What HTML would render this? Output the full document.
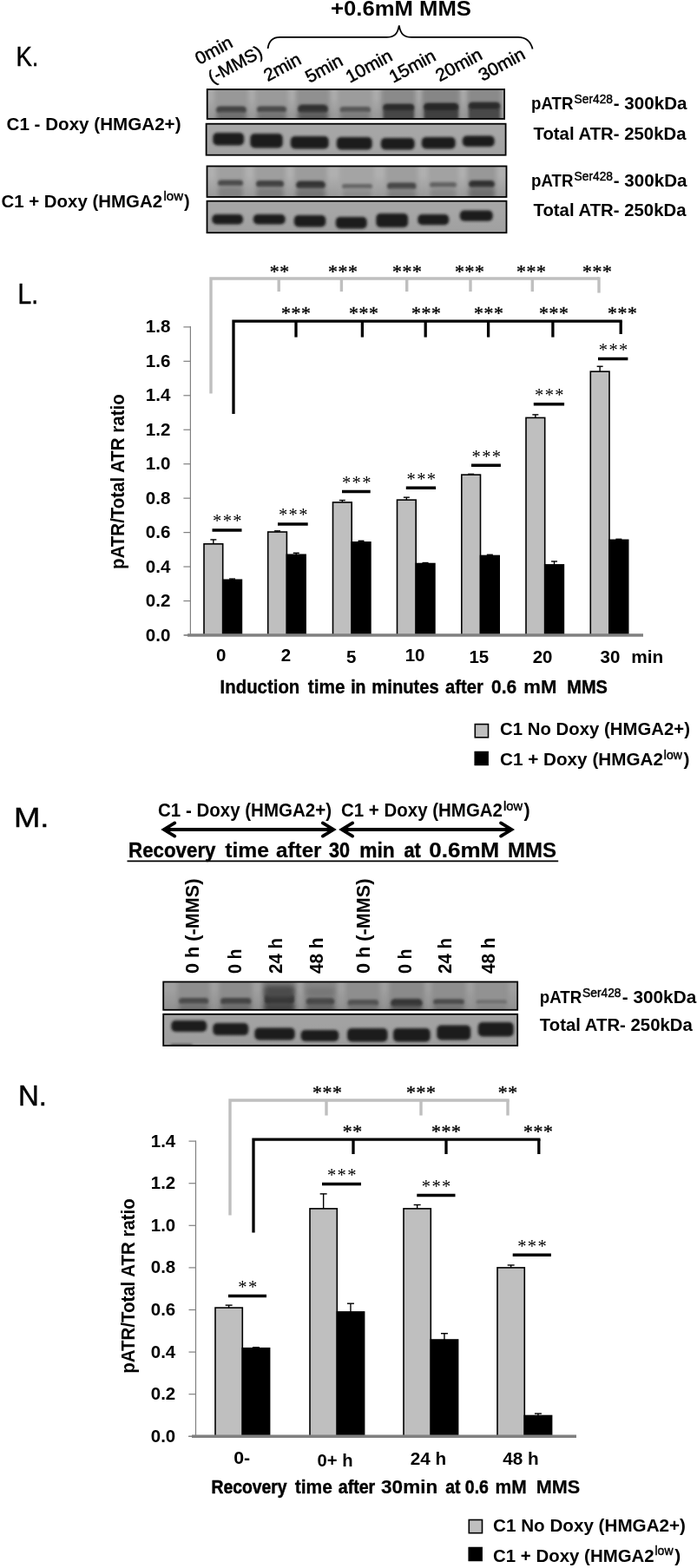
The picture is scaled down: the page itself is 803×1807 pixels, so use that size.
<!DOCTYPE html>
<html><head><meta charset="utf-8"><title>Figure</title>
<style>
html,body{margin:0;padding:0;background:#fff;}
svg{display:block;font-family:"Liberation Sans", sans-serif;}
</style></head><body>
<svg width="803" height="1807" viewBox="0 0 803 1807">
<defs>
<filter id="b1" x="-20%" y="-50%" width="140%" height="200%"><feGaussianBlur stdDeviation="1.5"/></filter>
<filter id="b2" x="-20%" y="-50%" width="140%" height="200%"><feGaussianBlur stdDeviation="2.4"/></filter>
<filter id="b3" x="-20%" y="-80%" width="140%" height="260%"><feGaussianBlur stdDeviation="3"/></filter>
</defs>
<rect width="803" height="1807" fill="#fff"/>
<text x="381" y="18" font-size="23" font-weight="bold" text-anchor="start" fill="#000" textLength="162" lengthAdjust="spacingAndGlyphs">+0.6mM MMS</text>
<text x="18.4" y="76" font-size="32" font-weight="normal" text-anchor="start" fill="#000" textLength="26" lengthAdjust="spacingAndGlyphs" stroke="#000" stroke-width="0.45">K.</text>
<path d="M308.6 56 C309.6 47.5 314 42.9 322.5 42.9 L445.5 42.9 C453.5 42.9 458 40 459.8 29.3 C461.6 40 466 42.9 474 42.9 L597 42.9 C606.5 42.9 611.2 47.5 613.6 56.5" fill="none" stroke="#000" stroke-width="1.8"/>
<text x="229.5" y="75" font-size="20.5" font-weight="normal" text-anchor="start" fill="#000" textLength="45.5" lengthAdjust="spacingAndGlyphs" transform="rotate(-28.5 229.5 75)" stroke="#000" stroke-width="0.5">0min</text>
<text x="244.5" y="96.5" font-size="20.5" font-weight="normal" text-anchor="start" fill="#000" textLength="67.5" lengthAdjust="spacingAndGlyphs" transform="rotate(-28.5 244.5 96.5)" stroke="#000" stroke-width="0.5">(-MMS)</text>
<text x="308.5" y="94.3" font-size="20.5" font-weight="normal" text-anchor="start" fill="#000" textLength="45.5" lengthAdjust="spacingAndGlyphs" transform="rotate(-28.5 308.5 94.3)" stroke="#000" stroke-width="0.5">2min</text>
<text x="356.5" y="96" font-size="20.5" font-weight="normal" text-anchor="start" fill="#000" textLength="45.5" lengthAdjust="spacingAndGlyphs" transform="rotate(-28.5 356.5 96)" stroke="#000" stroke-width="0.5">5min</text>
<text x="403" y="96" font-size="20.5" font-weight="normal" text-anchor="start" fill="#000" textLength="57.5" lengthAdjust="spacingAndGlyphs" transform="rotate(-28.5 403 96)" stroke="#000" stroke-width="0.5">10min</text>
<text x="453" y="96" font-size="20.5" font-weight="normal" text-anchor="start" fill="#000" textLength="57.5" lengthAdjust="spacingAndGlyphs" transform="rotate(-28.5 453 96)" stroke="#000" stroke-width="0.5">15min</text>
<text x="506.5" y="94.5" font-size="20.5" font-weight="normal" text-anchor="start" fill="#000" textLength="57.5" lengthAdjust="spacingAndGlyphs" transform="rotate(-28.5 506.5 94.5)" stroke="#000" stroke-width="0.5">20min</text>
<text x="556" y="94" font-size="20.5" font-weight="normal" text-anchor="start" fill="#000" textLength="57.5" lengthAdjust="spacingAndGlyphs" transform="rotate(-28.5 556 94)" stroke="#000" stroke-width="0.5">30min</text>
<text x="7.5" y="150" font-size="20" font-weight="bold" text-anchor="start" fill="#000" textLength="201" lengthAdjust="spacingAndGlyphs">C1 - Doxy (HMGA2+)</text>
<text x="1.5" y="238.7" font-size="20" font-weight="bold" text-anchor="start" fill="#000" textLength="185.5" lengthAdjust="spacingAndGlyphs">C1 + Doxy (HMGA2</text>
<text x="188.5" y="231" font-size="14" font-weight="normal" text-anchor="start" fill="#000" textLength="22.5" lengthAdjust="spacingAndGlyphs" stroke="#000" stroke-width="0.45">low</text>
<text x="212" y="238.7" font-size="20" font-weight="bold" text-anchor="start" fill="#000">)</text>
<text x="612" y="126" font-size="21" font-weight="bold" text-anchor="start" fill="#000" textLength="48.5" lengthAdjust="spacingAndGlyphs">pATR</text>
<text x="661.5" y="119" font-size="14.5" font-weight="normal" text-anchor="start" fill="#000" textLength="44.5" lengthAdjust="spacingAndGlyphs" stroke="#000" stroke-width="0.45">Ser428</text>
<text x="706.8" y="126" font-size="21" font-weight="bold" text-anchor="start" fill="#000" textLength="84.7" lengthAdjust="spacingAndGlyphs">- 300kDa</text>
<text x="612" y="214.5" font-size="21" font-weight="bold" text-anchor="start" fill="#000" textLength="48.5" lengthAdjust="spacingAndGlyphs">pATR</text>
<text x="661.5" y="207.5" font-size="14.5" font-weight="normal" text-anchor="start" fill="#000" textLength="44.5" lengthAdjust="spacingAndGlyphs" stroke="#000" stroke-width="0.45">Ser428</text>
<text x="706.8" y="214.5" font-size="21" font-weight="bold" text-anchor="start" fill="#000" textLength="84.7" lengthAdjust="spacingAndGlyphs">- 300kDa</text>
<text x="614.5" y="160.5" font-size="21" font-weight="bold" text-anchor="start" fill="#000" textLength="176" lengthAdjust="spacingAndGlyphs">Total ATR- 250kDa</text>
<text x="614.5" y="249" font-size="21" font-weight="bold" text-anchor="start" fill="#000" textLength="176" lengthAdjust="spacingAndGlyphs">Total ATR- 250kDa</text>
<clipPath id="ck1"><rect x="238.7" y="103" width="342.4" height="34"/></clipPath>
<linearGradient id="gk1" x1="0" y1="0" x2="0" y2="1"><stop offset="0.3" stop-color="#ababab"/><stop offset="1" stop-color="#969696"/></linearGradient>
<g clip-path="url(#ck1)">
<rect x="238.7" y="103" width="342.4" height="34" fill="url(#gk1)"/>
<rect x="247" y="98" width="39" height="44" rx="5" fill="#989898" filter="url(#b2)"/>
<rect x="294" y="98" width="38" height="44" rx="5" fill="#9a9a9a" filter="url(#b2)"/>
<rect x="341" y="98" width="39" height="44" rx="5" fill="#909090" filter="url(#b2)"/>
<rect x="389" y="98" width="40" height="44" rx="5" fill="#9c9c9c" filter="url(#b2)"/>
<rect x="439" y="98" width="40" height="44" rx="5" fill="#8a8a8a" filter="url(#b2)"/>
<rect x="486" y="98" width="44" height="44" rx="5" fill="#868686" filter="url(#b2)"/>
<rect x="538" y="98" width="40" height="44" rx="5" fill="#8a8a8a" filter="url(#b2)"/>
<rect x="249" y="122.5" width="35" height="8.5" rx="4.25" fill="#3e3e3e" filter="url(#b1)"/>
<rect x="249" y="129" width="35" height="12" rx="5" fill="#6e6e6e" filter="url(#b2)"/>
<rect x="296" y="122.5" width="34" height="7.5" rx="3.75" fill="#454545" filter="url(#b1)"/>
<rect x="296" y="129" width="34" height="12" rx="5" fill="#727272" filter="url(#b2)"/>
<rect x="343" y="120.5" width="35" height="10.5" rx="5" fill="#2e2e2e" filter="url(#b1)"/>
<rect x="343" y="129" width="35" height="12" rx="5" fill="#5c5c5c" filter="url(#b2)"/>
<rect x="391.5" y="123" width="35.5" height="7" rx="3.5" fill="#525252" filter="url(#b1)"/>
<rect x="391.5" y="129" width="35.5" height="12" rx="5" fill="#7a7a7a" filter="url(#b2)"/>
<rect x="441.5" y="120.5" width="35.5" height="20.5" rx="5" fill="#474747" filter="url(#b1)"/>
<rect x="441.5" y="120" width="35.5" height="7" rx="3.5" fill="#2c2c2c" filter="url(#b1)"/>
<rect x="488.5" y="119.5" width="39.5" height="21.5" rx="5" fill="#404040" filter="url(#b1)"/>
<rect x="488.5" y="119" width="39.5" height="8" rx="4.0" fill="#262626" filter="url(#b1)"/>
<rect x="540" y="118.5" width="36" height="22.5" rx="5" fill="#4a4a4a" filter="url(#b1)"/>
<rect x="540" y="118" width="36" height="7.5" rx="3.75" fill="#2c2c2c" filter="url(#b1)"/>
</g>
<rect x="238.7" y="103" width="342.4" height="34" fill="none" stroke="#000" stroke-width="1.8"/>
<clipPath id="ck2"><rect x="237.6" y="142.7" width="345" height="36"/></clipPath>
<linearGradient id="gk2" x1="0" y1="0" x2="0" y2="1"><stop offset="0.3" stop-color="#a6a6a6"/><stop offset="1" stop-color="#a2a2a2"/></linearGradient>
<g clip-path="url(#ck2)">
<rect x="237.6" y="142.7" width="345" height="36" fill="url(#gk2)"/>
<rect x="245.3" y="153.0" width="35.80000000000001" height="14.5" rx="5" fill="#1a1a1a" filter="url(#b1)"/>
<rect x="288.3" y="154.0" width="37.39999999999998" height="16.5" rx="5" fill="#1a1a1a" filter="url(#b1)"/>
<rect x="334.8" y="157.0" width="43.89999999999998" height="14.5" rx="5" fill="#1a1a1a" filter="url(#b1)"/>
<rect x="387.8" y="158.0" width="40.89999999999998" height="14.5" rx="5" fill="#1a1a1a" filter="url(#b1)"/>
<rect x="438.8" y="159.0" width="38.89999999999998" height="13.5" rx="5" fill="#1a1a1a" filter="url(#b1)"/>
<rect x="485.8" y="158.0" width="38.900000000000034" height="13.5" rx="5" fill="#1a1a1a" filter="url(#b1)"/>
<rect x="532.8" y="156.5" width="36.90000000000009" height="12.5" rx="5" fill="#1a1a1a" filter="url(#b1)"/>
</g>
<rect x="237.6" y="142.7" width="345" height="36" fill="none" stroke="#000" stroke-width="1.8"/>
<clipPath id="ck3"><rect x="238.5" y="191.5" width="345" height="35.5"/></clipPath>
<linearGradient id="gk3" x1="0" y1="0" x2="0" y2="1"><stop offset="0.3" stop-color="#b0b0b0"/><stop offset="1" stop-color="#999"/></linearGradient>
<g clip-path="url(#ck3)">
<rect x="238.5" y="191.5" width="345" height="35.5" fill="url(#gk3)"/>
<rect x="249" y="186" width="33" height="46" rx="5" fill="#a0a0a0" filter="url(#b2)"/>
<rect x="293" y="186" width="36" height="46" rx="5" fill="#9e9e9e" filter="url(#b2)"/>
<rect x="339" y="186" width="38" height="46" rx="5" fill="#9c9c9c" filter="url(#b2)"/>
<rect x="391" y="186" width="40" height="46" rx="5" fill="#a4a4a4" filter="url(#b2)"/>
<rect x="444" y="186" width="37.5" height="46" rx="5" fill="#9e9e9e" filter="url(#b2)"/>
<rect x="493" y="186" width="35" height="46" rx="5" fill="#a2a2a2" filter="url(#b2)"/>
<rect x="538" y="186" width="34" height="46" rx="5" fill="#989898" filter="url(#b2)"/>
<rect x="251" y="207.5" width="29" height="7.0" rx="3.5" fill="#484848" filter="url(#b1)"/>
<rect x="251" y="215" width="29" height="16" rx="5" fill="#828282" filter="url(#b2)"/>
<rect x="295" y="208" width="32" height="8" rx="4.0" fill="#404040" filter="url(#b1)"/>
<rect x="295" y="216" width="32" height="15" rx="5" fill="#7e7e7e" filter="url(#b2)"/>
<rect x="341" y="208.5" width="34" height="9.5" rx="4.75" fill="#323232" filter="url(#b1)"/>
<rect x="341" y="217" width="34" height="14" rx="5" fill="#747474" filter="url(#b2)"/>
<rect x="394" y="212" width="35" height="5.5" rx="2.75" fill="#646464" filter="url(#b1)"/>
<rect x="394" y="218" width="35" height="13" rx="5" fill="#8c8c8c" filter="url(#b2)"/>
<rect x="446" y="210.5" width="33.5" height="8.0" rx="4.0" fill="#444" filter="url(#b1)"/>
<rect x="446" y="218" width="33.5" height="13" rx="5" fill="#808080" filter="url(#b2)"/>
<rect x="495" y="210" width="31" height="6" rx="3.0" fill="#606060" filter="url(#b1)"/>
<rect x="495" y="217" width="31" height="14" rx="5" fill="#888" filter="url(#b2)"/>
<rect x="540" y="208" width="30" height="8.5" rx="4.25" fill="#2e2e2e" filter="url(#b1)"/>
<rect x="540" y="216" width="30" height="15" rx="5" fill="#6e6e6e" filter="url(#b2)"/>
</g>
<rect x="238.5" y="191.5" width="345" height="35.5" fill="none" stroke="#000" stroke-width="1.8"/>
<clipPath id="ck4"><rect x="238.5" y="231.7" width="345" height="36.5"/></clipPath>
<linearGradient id="gk4" x1="0" y1="0" x2="0" y2="1"><stop offset="0.3" stop-color="#a6a6a6"/><stop offset="1" stop-color="#a0a0a0"/></linearGradient>
<g clip-path="url(#ck4)">
<rect x="238.5" y="231.7" width="345" height="36.5" fill="url(#gk4)"/>
<rect x="244.3" y="247.0" width="35.69999999999999" height="11.5" rx="5" fill="#1a1a1a" filter="url(#b1)"/>
<rect x="291.8" y="247.0" width="36.89999999999998" height="11.5" rx="5" fill="#1a1a1a" filter="url(#b1)"/>
<rect x="338.8" y="248.0" width="36.5" height="13.5" rx="5" fill="#1a1a1a" filter="url(#b1)"/>
<rect x="386.8" y="250.0" width="35.89999999999998" height="13.5" rx="5" fill="#1a1a1a" filter="url(#b1)"/>
<rect x="433.3" y="246.0" width="36.80000000000001" height="16.0" rx="5" fill="#1a1a1a" filter="url(#b1)"/>
<rect x="481.3" y="247.0" width="35.900000000000034" height="12.300000000000011" rx="5" fill="#1a1a1a" filter="url(#b1)"/>
<rect x="529.8" y="242.5" width="37.90000000000009" height="12.300000000000011" rx="5" fill="#1a1a1a" filter="url(#b1)"/>
</g>
<rect x="238.5" y="231.7" width="345" height="36.5" fill="none" stroke="#000" stroke-width="1.8"/>
<text x="20.5" y="350" font-size="32.5" font-weight="normal" text-anchor="start" fill="#000" textLength="23.5" lengthAdjust="spacingAndGlyphs" stroke="#000" stroke-width="0.45">L.</text>
<line x1="219.4" y1="376" x2="219.4" y2="732.0" stroke="#808080" stroke-width="1.2" stroke-linecap="butt"/>
<line x1="211.4" y1="732.0" x2="219.4" y2="732.0" stroke="#808080" stroke-width="1.2" stroke-linecap="butt"/>
<text x="196.4" y="738.5" font-size="19.5" font-weight="bold" text-anchor="end" fill="#000" textLength="28.6" lengthAdjust="spacingAndGlyphs">0.0</text>
<line x1="211.4" y1="692.54" x2="219.4" y2="692.54" stroke="#808080" stroke-width="1.2" stroke-linecap="butt"/>
<text x="196.4" y="699.04" font-size="19.5" font-weight="bold" text-anchor="end" fill="#000" textLength="28.6" lengthAdjust="spacingAndGlyphs">0.2</text>
<line x1="211.4" y1="653.0799999999999" x2="219.4" y2="653.0799999999999" stroke="#808080" stroke-width="1.2" stroke-linecap="butt"/>
<text x="196.4" y="659.5799999999999" font-size="19.5" font-weight="bold" text-anchor="end" fill="#000" textLength="28.6" lengthAdjust="spacingAndGlyphs">0.4</text>
<line x1="211.4" y1="613.62" x2="219.4" y2="613.62" stroke="#808080" stroke-width="1.2" stroke-linecap="butt"/>
<text x="196.4" y="620.12" font-size="19.5" font-weight="bold" text-anchor="end" fill="#000" textLength="28.6" lengthAdjust="spacingAndGlyphs">0.6</text>
<line x1="211.4" y1="574.16" x2="219.4" y2="574.16" stroke="#808080" stroke-width="1.2" stroke-linecap="butt"/>
<text x="196.4" y="580.66" font-size="19.5" font-weight="bold" text-anchor="end" fill="#000" textLength="28.6" lengthAdjust="spacingAndGlyphs">0.8</text>
<line x1="211.4" y1="534.7" x2="219.4" y2="534.7" stroke="#808080" stroke-width="1.2" stroke-linecap="butt"/>
<text x="196.4" y="541.2" font-size="19.5" font-weight="bold" text-anchor="end" fill="#000" textLength="28.6" lengthAdjust="spacingAndGlyphs">1.0</text>
<line x1="211.4" y1="495.23999999999995" x2="219.4" y2="495.23999999999995" stroke="#808080" stroke-width="1.2" stroke-linecap="butt"/>
<text x="196.4" y="501.73999999999995" font-size="19.5" font-weight="bold" text-anchor="end" fill="#000" textLength="28.6" lengthAdjust="spacingAndGlyphs">1.2</text>
<line x1="211.4" y1="455.78" x2="219.4" y2="455.78" stroke="#808080" stroke-width="1.2" stroke-linecap="butt"/>
<text x="196.4" y="462.28" font-size="19.5" font-weight="bold" text-anchor="end" fill="#000" textLength="28.6" lengthAdjust="spacingAndGlyphs">1.4</text>
<line x1="211.4" y1="416.31999999999994" x2="219.4" y2="416.31999999999994" stroke="#808080" stroke-width="1.2" stroke-linecap="butt"/>
<text x="196.4" y="422.81999999999994" font-size="19.5" font-weight="bold" text-anchor="end" fill="#000" textLength="28.6" lengthAdjust="spacingAndGlyphs">1.6</text>
<line x1="211.4" y1="376.85999999999996" x2="219.4" y2="376.85999999999996" stroke="#808080" stroke-width="1.2" stroke-linecap="butt"/>
<text x="196.4" y="383.35999999999996" font-size="19.5" font-weight="bold" text-anchor="end" fill="#000" textLength="28.6" lengthAdjust="spacingAndGlyphs">1.8</text>
<text x="143.5" y="555.1" font-size="22" font-weight="bold" text-anchor="middle" fill="#000" textLength="201.6" lengthAdjust="spacingAndGlyphs" transform="rotate(-90 143.5 555.1)">pATR/Total ATR ratio</text>
<line x1="245.85" y1="626.8391" x2="245.85" y2="621.9066" stroke="#000" stroke-width="1.4" stroke-linecap="butt"/>
<line x1="242.35" y1="621.9066" x2="249.35" y2="621.9066" stroke="#000" stroke-width="1.4" stroke-linecap="butt"/>
<rect x="235" y="626.8391" width="21.7" height="105.16089999999997" fill="#bfbfbf" stroke="#000" stroke-width="1.6"/>
<line x1="267.55" y1="668.2721" x2="267.55" y2="667.0883" stroke="#000" stroke-width="1.4" stroke-linecap="butt"/>
<line x1="264.05" y1="667.0883" x2="271.05" y2="667.0883" stroke="#000" stroke-width="1.4" stroke-linecap="butt"/>
<rect x="256.7" y="668.2721" width="21.7" height="63.72789999999998" fill="#000" stroke="#000" stroke-width="1.6"/>
<line x1="319.55" y1="613.0281" x2="319.55" y2="611.8443" stroke="#000" stroke-width="1.4" stroke-linecap="butt"/>
<line x1="316.05" y1="611.8443" x2="323.05" y2="611.8443" stroke="#000" stroke-width="1.4" stroke-linecap="butt"/>
<rect x="308.7" y="613.0281" width="21.7" height="118.9719" fill="#bfbfbf" stroke="#000" stroke-width="1.6"/>
<line x1="341.25" y1="639.269" x2="341.25" y2="637.296" stroke="#000" stroke-width="1.4" stroke-linecap="butt"/>
<line x1="337.75" y1="637.296" x2="344.75" y2="637.296" stroke="#000" stroke-width="1.4" stroke-linecap="butt"/>
<rect x="330.4" y="639.269" width="21.7" height="92.731" fill="#000" stroke="#000" stroke-width="1.6"/>
<line x1="394.35" y1="578.8951999999999" x2="394.35" y2="576.5275999999999" stroke="#000" stroke-width="1.4" stroke-linecap="butt"/>
<line x1="390.85" y1="576.5275999999999" x2="397.85" y2="576.5275999999999" stroke="#000" stroke-width="1.4" stroke-linecap="butt"/>
<rect x="383.5" y="578.8951999999999" width="21.7" height="153.10480000000007" fill="#bfbfbf" stroke="#000" stroke-width="1.6"/>
<line x1="416.05" y1="624.8661" x2="416.05" y2="623.2877" stroke="#000" stroke-width="1.4" stroke-linecap="butt"/>
<line x1="412.55" y1="623.2877" x2="419.55" y2="623.2877" stroke="#000" stroke-width="1.4" stroke-linecap="butt"/>
<rect x="405.2" y="624.8661" width="21.7" height="107.13390000000004" fill="#000" stroke="#000" stroke-width="1.6"/>
<line x1="468.35" y1="576.133" x2="468.35" y2="573.1735" stroke="#000" stroke-width="1.4" stroke-linecap="butt"/>
<line x1="464.85" y1="573.1735" x2="471.85" y2="573.1735" stroke="#000" stroke-width="1.4" stroke-linecap="butt"/>
<rect x="457.5" y="576.133" width="21.7" height="155.86699999999996" fill="#bfbfbf" stroke="#000" stroke-width="1.6"/>
<line x1="490.05" y1="649.5286" x2="490.05" y2="648.5421" stroke="#000" stroke-width="1.4" stroke-linecap="butt"/>
<line x1="486.55" y1="648.5421" x2="493.55" y2="648.5421" stroke="#000" stroke-width="1.4" stroke-linecap="butt"/>
<rect x="479.2" y="649.5286" width="21.7" height="82.47140000000002" fill="#000" stroke="#000" stroke-width="1.6"/>
<line x1="542.65" y1="547.1299" x2="542.65" y2="546.3407" stroke="#000" stroke-width="1.4" stroke-linecap="butt"/>
<line x1="539.15" y1="546.3407" x2="546.15" y2="546.3407" stroke="#000" stroke-width="1.4" stroke-linecap="butt"/>
<rect x="531.8" y="547.1299" width="21.7" height="184.87009999999998" fill="#bfbfbf" stroke="#000" stroke-width="1.6"/>
<line x1="564.3499999999999" y1="640.4528" x2="564.3499999999999" y2="639.269" stroke="#000" stroke-width="1.4" stroke-linecap="butt"/>
<line x1="560.8499999999999" y1="639.269" x2="567.8499999999999" y2="639.269" stroke="#000" stroke-width="1.4" stroke-linecap="butt"/>
<rect x="553.5" y="640.4528" width="21.7" height="91.54719999999998" fill="#000" stroke="#000" stroke-width="1.6"/>
<line x1="616.85" y1="481.429" x2="616.85" y2="477.8776" stroke="#000" stroke-width="1.4" stroke-linecap="butt"/>
<line x1="613.35" y1="477.8776" x2="620.35" y2="477.8776" stroke="#000" stroke-width="1.4" stroke-linecap="butt"/>
<rect x="606" y="481.429" width="21.7" height="250.57100000000003" fill="#bfbfbf" stroke="#000" stroke-width="1.6"/>
<line x1="638.55" y1="650.9097" x2="638.55" y2="646.9637" stroke="#000" stroke-width="1.4" stroke-linecap="butt"/>
<line x1="635.05" y1="646.9637" x2="642.05" y2="646.9637" stroke="#000" stroke-width="1.4" stroke-linecap="butt"/>
<rect x="627.7" y="650.9097" width="21.7" height="81.09029999999996" fill="#000" stroke="#000" stroke-width="1.6"/>
<line x1="691.15" y1="428.15799999999996" x2="691.15" y2="422.239" stroke="#000" stroke-width="1.4" stroke-linecap="butt"/>
<line x1="687.65" y1="422.239" x2="694.65" y2="422.239" stroke="#000" stroke-width="1.4" stroke-linecap="butt"/>
<rect x="680.3" y="428.15799999999996" width="21.7" height="303.84200000000004" fill="#bfbfbf" stroke="#000" stroke-width="1.6"/>
<line x1="712.8499999999999" y1="622.3012" x2="712.8499999999999" y2="621.3147" stroke="#000" stroke-width="1.4" stroke-linecap="butt"/>
<line x1="709.3499999999999" y1="621.3147" x2="716.3499999999999" y2="621.3147" stroke="#000" stroke-width="1.4" stroke-linecap="butt"/>
<rect x="702.0" y="622.3012" width="21.7" height="109.6988" fill="#000" stroke="#000" stroke-width="1.6"/>
<line x1="216" y1="732.0" x2="741" y2="732.0" stroke="#808080" stroke-width="3.4" stroke-linecap="butt"/>
<line x1="212" y1="732.0" x2="217" y2="732.0" stroke="#808080" stroke-width="1.2" stroke-linecap="butt"/>
<line x1="244.5" y1="611.0" x2="278.5" y2="611.0" stroke="#000" stroke-width="3.6" stroke-linecap="butt"/>
<text x="262.54999999999995" y="607.4" font-size="20.5" font-weight="normal" text-anchor="middle" fill="#000" font-family='"Liberation Serif", serif' letter-spacing="1.4">***</text>
<line x1="320" y1="604.0" x2="354.7" y2="604.0" stroke="#000" stroke-width="3.6" stroke-linecap="butt"/>
<text x="338.4" y="600.4" font-size="20.5" font-weight="normal" text-anchor="middle" fill="#000" font-family='"Liberation Serif", serif' letter-spacing="1.4">***</text>
<line x1="394" y1="566.5" x2="426.7" y2="566.5" stroke="#000" stroke-width="3.6" stroke-linecap="butt"/>
<text x="411.4" y="562.9" font-size="20.5" font-weight="normal" text-anchor="middle" fill="#000" font-family='"Liberation Serif", serif' letter-spacing="1.4">***</text>
<line x1="467.8" y1="562.3" x2="502.09999999999997" y2="562.3" stroke="#000" stroke-width="3.6" stroke-linecap="butt"/>
<text x="486.0" y="558.6999999999999" font-size="20.5" font-weight="normal" text-anchor="middle" fill="#000" font-family='"Liberation Serif", serif' letter-spacing="1.4">***</text>
<line x1="543" y1="536.2" x2="576.9000000000001" y2="536.2" stroke="#000" stroke-width="3.6" stroke-linecap="butt"/>
<text x="561.0" y="532.6" font-size="20.5" font-weight="normal" text-anchor="middle" fill="#000" font-family='"Liberation Serif", serif' letter-spacing="1.4">***</text>
<line x1="614.8" y1="465.7" x2="650.1" y2="465.7" stroke="#000" stroke-width="3.6" stroke-linecap="butt"/>
<text x="633.4999999999999" y="462.09999999999997" font-size="20.5" font-weight="normal" text-anchor="middle" fill="#000" font-family='"Liberation Serif", serif' letter-spacing="1.4">***</text>
<line x1="689" y1="413.5" x2="723.4000000000001" y2="413.5" stroke="#000" stroke-width="3.6" stroke-linecap="butt"/>
<text x="707.25" y="409.9" font-size="20.5" font-weight="normal" text-anchor="middle" fill="#000" font-family='"Liberation Serif", serif' letter-spacing="1.4">***</text>
<path d="M243 453.5 L243 321 L690 321" fill="none" stroke="#bfbfbf" stroke-width="3.4"/>
<line x1="321.2" y1="321" x2="321.2" y2="336" stroke="#bfbfbf" stroke-width="3.4" stroke-linecap="butt"/>
<line x1="393.4" y1="321" x2="393.4" y2="336" stroke="#bfbfbf" stroke-width="3.4" stroke-linecap="butt"/>
<line x1="468.7" y1="321" x2="468.7" y2="336" stroke="#bfbfbf" stroke-width="3.4" stroke-linecap="butt"/>
<line x1="542" y1="321" x2="542" y2="336" stroke="#bfbfbf" stroke-width="3.4" stroke-linecap="butt"/>
<line x1="613.3" y1="321" x2="613.3" y2="336" stroke="#bfbfbf" stroke-width="3.4" stroke-linecap="butt"/>
<line x1="690" y1="319.3" x2="690" y2="337.5" stroke="#bfbfbf" stroke-width="3.4" stroke-linecap="butt"/>
<text x="322.3" y="319.8" font-size="21.8" font-weight="normal" text-anchor="middle" fill="#000" font-family='"Liberation Serif", serif' letter-spacing="0.6" stroke="#000" stroke-width="0.35">**</text>
<text x="395.3" y="319.8" font-size="21.8" font-weight="normal" text-anchor="middle" fill="#000" font-family='"Liberation Serif", serif' letter-spacing="0.6" stroke="#000" stroke-width="0.35">***</text>
<text x="469.3" y="319.8" font-size="21.8" font-weight="normal" text-anchor="middle" fill="#000" font-family='"Liberation Serif", serif' letter-spacing="0.6" stroke="#000" stroke-width="0.35">***</text>
<text x="541.3" y="319.8" font-size="21.8" font-weight="normal" text-anchor="middle" fill="#000" font-family='"Liberation Serif", serif' letter-spacing="0.6" stroke="#000" stroke-width="0.35">***</text>
<text x="612.3" y="319.8" font-size="21.8" font-weight="normal" text-anchor="middle" fill="#000" font-family='"Liberation Serif", serif' letter-spacing="0.6" stroke="#000" stroke-width="0.35">***</text>
<text x="688.3" y="319.8" font-size="21.8" font-weight="normal" text-anchor="middle" fill="#000" font-family='"Liberation Serif", serif' letter-spacing="0.6" stroke="#000" stroke-width="0.35">***</text>
<path d="M269 477 L269 370.2 L716.8 370.2" fill="none" stroke="#000" stroke-width="3.3"/>
<line x1="341" y1="370" x2="341" y2="388.6" stroke="#000" stroke-width="3.3" stroke-linecap="butt"/>
<line x1="417.4" y1="370" x2="417.4" y2="388.6" stroke="#000" stroke-width="3.3" stroke-linecap="butt"/>
<line x1="490.2" y1="370" x2="490.2" y2="388.6" stroke="#000" stroke-width="3.3" stroke-linecap="butt"/>
<line x1="562.6" y1="370" x2="562.6" y2="388.6" stroke="#000" stroke-width="3.3" stroke-linecap="butt"/>
<line x1="636.9" y1="370" x2="636.9" y2="388.6" stroke="#000" stroke-width="3.3" stroke-linecap="butt"/>
<line x1="715.2" y1="370" x2="715.2" y2="385" stroke="#000" stroke-width="3.3" stroke-linecap="butt"/>
<text x="341.3" y="368.3" font-size="21.8" font-weight="normal" text-anchor="middle" fill="#000" font-family='"Liberation Serif", serif' letter-spacing="0.6" stroke="#000" stroke-width="0.35">***</text>
<text x="419.3" y="368.3" font-size="21.8" font-weight="normal" text-anchor="middle" fill="#000" font-family='"Liberation Serif", serif' letter-spacing="0.6" stroke="#000" stroke-width="0.35">***</text>
<text x="491.3" y="368.3" font-size="21.8" font-weight="normal" text-anchor="middle" fill="#000" font-family='"Liberation Serif", serif' letter-spacing="0.6" stroke="#000" stroke-width="0.35">***</text>
<text x="563.3" y="368.3" font-size="21.8" font-weight="normal" text-anchor="middle" fill="#000" font-family='"Liberation Serif", serif' letter-spacing="0.6" stroke="#000" stroke-width="0.35">***</text>
<text x="638.3" y="368.3" font-size="21.8" font-weight="normal" text-anchor="middle" fill="#000" font-family='"Liberation Serif", serif' letter-spacing="0.6" stroke="#000" stroke-width="0.35">***</text>
<text x="717.3" y="368.3" font-size="21.8" font-weight="normal" text-anchor="middle" fill="#000" font-family='"Liberation Serif", serif' letter-spacing="0.6" stroke="#000" stroke-width="0.35">***</text>
<text x="254.7" y="761.5" font-size="20.5" font-weight="bold" text-anchor="middle" fill="#000">0</text>
<text x="329.5" y="762.4" font-size="20.5" font-weight="bold" text-anchor="middle" fill="#000">2</text>
<text x="404.6" y="763.6" font-size="20.5" font-weight="bold" text-anchor="middle" fill="#000">5</text>
<text x="478.1" y="762.4" font-size="20.5" font-weight="bold" text-anchor="middle" fill="#000">10</text>
<text x="551.8" y="764.4" font-size="20.5" font-weight="bold" text-anchor="middle" fill="#000">15</text>
<text x="625.1" y="764.1" font-size="20.5" font-weight="bold" text-anchor="middle" fill="#000">20</text>
<text x="703" y="763.6" font-size="20.5" font-weight="bold" text-anchor="middle" fill="#000">30</text>
<text x="727.3" y="763.6" font-size="20.5" font-weight="bold" text-anchor="start" fill="#000" textLength="37" lengthAdjust="spacingAndGlyphs">min</text>
<text x="253.6" y="799.3" font-size="21.5" font-weight="bold" text-anchor="start" fill="#000" textLength="91.68" lengthAdjust="spacingAndGlyphs" stroke="#000" stroke-width="0.36">Induction</text>
<text x="354.7" y="799.3" font-size="21.5" font-weight="bold" text-anchor="start" fill="#000" textLength="43.02" lengthAdjust="spacingAndGlyphs" stroke="#000" stroke-width="0.28">time</text>
<text x="404.24" y="799.3" font-size="21.5" font-weight="bold" text-anchor="start" fill="#000" textLength="17.2" lengthAdjust="spacingAndGlyphs" stroke="#000" stroke-width="0.5">in</text>
<text x="428.3" y="799.3" font-size="21.5" font-weight="bold" text-anchor="start" fill="#000" textLength="77.48" lengthAdjust="spacingAndGlyphs" stroke="#000" stroke-width="0.38">minutes</text>
<text x="513.0" y="799.3" font-size="21.5" font-weight="bold" text-anchor="start" fill="#000" textLength="43.75" lengthAdjust="spacingAndGlyphs" stroke="#000" stroke-width="0.38">after</text>
<text x="566.0" y="799.3" font-size="21.5" font-weight="bold" text-anchor="start" fill="#000" textLength="29.2" lengthAdjust="spacingAndGlyphs" stroke="#000" stroke-width="0.27">0.6</text>
<text x="603.2" y="799.3" font-size="21.5" font-weight="bold" text-anchor="start" fill="#000" textLength="38.15" lengthAdjust="spacingAndGlyphs" stroke="#000" stroke-width="0.2">mM</text>
<text x="653.3" y="799.3" font-size="21.5" font-weight="bold" text-anchor="start" fill="#000" textLength="46.66" lengthAdjust="spacingAndGlyphs" stroke="#000" stroke-width="0.41">MMS</text>
<rect x="547.3" y="834.6" width="15.2" height="15.2" fill="#bfbfbf" stroke="#000" stroke-width="1.6"/>
<text x="576" y="846.5" font-size="21" font-weight="bold" text-anchor="start" fill="#000" textLength="219" lengthAdjust="spacingAndGlyphs">C1 No Doxy (HMGA2+)</text>
<rect x="546.8" y="866" width="16" height="16" fill="#000" stroke="#000" stroke-width="0.5"/>
<text x="576" y="882.2" font-size="21" font-weight="bold" text-anchor="start" fill="#000" textLength="188" lengthAdjust="spacingAndGlyphs">C1 + Doxy (HMGA2</text>
<text x="764.8" y="874.7" font-size="14" font-weight="normal" text-anchor="start" fill="#000" textLength="21" lengthAdjust="spacingAndGlyphs" stroke="#000" stroke-width="0.45">low</text>
<text x="787.5" y="882.2" font-size="21" font-weight="bold" text-anchor="start" fill="#000">)</text>
<text x="15.9" y="952.7" font-size="32" font-weight="normal" text-anchor="start" fill="#000" textLength="40.5" lengthAdjust="spacingAndGlyphs" stroke="#000" stroke-width="0.45">M.</text>
<text x="182" y="941" font-size="21.5" font-weight="bold" text-anchor="start" fill="#000" textLength="200" lengthAdjust="spacingAndGlyphs">C1 - Doxy (HMGA2+)</text>
<text x="393" y="941" font-size="21.5" font-weight="bold" text-anchor="start" fill="#000" textLength="186" lengthAdjust="spacingAndGlyphs">C1 + Doxy (HMGA2</text>
<text x="580" y="934.3" font-size="14" font-weight="normal" text-anchor="start" fill="#000" textLength="22" lengthAdjust="spacingAndGlyphs" stroke="#000" stroke-width="0.45">low</text>
<text x="603.5" y="941" font-size="21.5" font-weight="bold" text-anchor="start" fill="#000">)</text>
<line x1="189.3" y1="956" x2="383.8" y2="956" stroke="#000" stroke-width="3.8" stroke-linecap="butt"/>
<path d="M201.3 948.4 L188.9 956 L201.3 963.6" fill="none" stroke="#000" stroke-width="3.8" stroke-linejoin="miter" stroke-linecap="round"/>
<path d="M371.8 948.4 L384.2 956 L371.8 963.6" fill="none" stroke="#000" stroke-width="3.8" stroke-linejoin="miter" stroke-linecap="round"/>
<line x1="394.2" y1="956" x2="589" y2="956" stroke="#000" stroke-width="3.8" stroke-linecap="butt"/>
<path d="M406.2 948.4 L393.8 956 L406.2 963.6" fill="none" stroke="#000" stroke-width="3.8" stroke-linejoin="miter" stroke-linecap="round"/>
<path d="M577 948.4 L589.4 956 L577 963.6" fill="none" stroke="#000" stroke-width="3.8" stroke-linejoin="miter" stroke-linecap="round"/>
<text x="148.1" y="988.4" font-size="24" font-weight="bold" text-anchor="start" fill="#000" textLength="100.36" lengthAdjust="spacingAndGlyphs" stroke="#000" stroke-width="0.41">Recovery</text>
<text x="259.2" y="988.4" font-size="24" font-weight="bold" text-anchor="start" fill="#000" textLength="50.83" lengthAdjust="spacingAndGlyphs" stroke="#000" stroke-width="0.2">time</text>
<text x="318.1" y="988.4" font-size="24" font-weight="bold" text-anchor="start" fill="#000" textLength="52.44" lengthAdjust="spacingAndGlyphs" stroke="#000" stroke-width="0.2">after</text>
<text x="378.96" y="988.4" font-size="24" font-weight="bold" text-anchor="start" fill="#000" textLength="24.03" lengthAdjust="spacingAndGlyphs" stroke="#000" stroke-width="0.5">30</text>
<text x="414.3" y="988.4" font-size="24" font-weight="bold" text-anchor="start" fill="#000" textLength="40.45" lengthAdjust="spacingAndGlyphs" stroke="#000" stroke-width="0.36">min</text>
<text x="465.44" y="988.4" font-size="24" font-weight="bold" text-anchor="start" fill="#000" textLength="19.21" lengthAdjust="spacingAndGlyphs" stroke="#000" stroke-width="0.5">at</text>
<text x="494.3" y="988.4" font-size="24" font-weight="bold" text-anchor="start" fill="#000" textLength="80.96" lengthAdjust="spacingAndGlyphs" stroke="#000" stroke-width="0.2">0.6mM</text>
<text x="584.9" y="988.4" font-size="24" font-weight="bold" text-anchor="start" fill="#000" textLength="56.05" lengthAdjust="spacingAndGlyphs" stroke="#000" stroke-width="0.2">MMS</text>
<line x1="146.5" y1="992.3" x2="643.2" y2="992.3" stroke="#000" stroke-width="1.7" stroke-linecap="butt"/>
<text x="229.2" y="1122" font-size="21.5" font-weight="bold" text-anchor="start" fill="#000" textLength="109.5" lengthAdjust="spacingAndGlyphs" transform="rotate(-90 229.2 1122)">0 h (-MMS)</text>
<text x="277.6" y="1122" font-size="21.5" font-weight="bold" text-anchor="start" fill="#000" textLength="28.5" lengthAdjust="spacingAndGlyphs" transform="rotate(-90 277.6 1122)">0 h</text>
<text x="325.2" y="1122" font-size="21.5" font-weight="bold" text-anchor="start" fill="#000" textLength="41" lengthAdjust="spacingAndGlyphs" transform="rotate(-90 325.2 1122)">24 h</text>
<text x="371.7" y="1122" font-size="21.5" font-weight="bold" text-anchor="start" fill="#000" textLength="41.5" lengthAdjust="spacingAndGlyphs" transform="rotate(-90 371.7 1122)">48 h</text>
<text x="425.8" y="1122" font-size="21.5" font-weight="bold" text-anchor="start" fill="#000" textLength="109.5" lengthAdjust="spacingAndGlyphs" transform="rotate(-90 425.8 1122)">0 h (-MMS)</text>
<text x="473.7" y="1122" font-size="21.5" font-weight="bold" text-anchor="start" fill="#000" textLength="28.5" lengthAdjust="spacingAndGlyphs" transform="rotate(-90 473.7 1122)">0 h</text>
<text x="520" y="1122" font-size="21.5" font-weight="bold" text-anchor="start" fill="#000" textLength="41" lengthAdjust="spacingAndGlyphs" transform="rotate(-90 520 1122)">24 h</text>
<text x="570.4" y="1122" font-size="21.5" font-weight="bold" text-anchor="start" fill="#000" textLength="41.5" lengthAdjust="spacingAndGlyphs" transform="rotate(-90 570.4 1122)">48 h</text>
<clipPath id="cm1"><rect x="188.2" y="1131.5" width="408" height="32.3"/></clipPath>
<linearGradient id="gm1" x1="0" y1="0" x2="0" y2="1"><stop offset="0.3" stop-color="#a0a0a0"/><stop offset="1" stop-color="#909090"/></linearGradient>
<g clip-path="url(#cm1)">
<rect x="188.2" y="1131.5" width="408" height="32.3" fill="url(#gm1)"/>
<rect x="204" y="1128" width="38" height="42" rx="5" fill="#8e8e8e" filter="url(#b2)"/>
<rect x="252" y="1128" width="39" height="42" rx="5" fill="#8c8c8c" filter="url(#b2)"/>
<rect x="302" y="1128" width="39" height="42" rx="5" fill="#7a7a7a" filter="url(#b2)"/>
<rect x="350" y="1128" width="38" height="42" rx="5" fill="#868686" filter="url(#b2)"/>
<rect x="398" y="1128" width="40" height="42" rx="5" fill="#8e8e8e" filter="url(#b2)"/>
<rect x="448" y="1128" width="41" height="42" rx="5" fill="#8a8a8a" filter="url(#b2)"/>
<rect x="497" y="1128" width="40" height="42" rx="5" fill="#8e8e8e" filter="url(#b2)"/>
<rect x="546" y="1128" width="40" height="42" rx="5" fill="#929292" filter="url(#b2)"/>
<rect x="206" y="1150" width="34.30000000000001" height="7.5" rx="3.75" fill="#484848" filter="url(#b1)"/>
<rect x="206" y="1157" width="34.30000000000001" height="11" rx="5" fill="#707070" filter="url(#b2)"/>
<rect x="254" y="1150" width="35.60000000000002" height="8" rx="4.0" fill="#424242" filter="url(#b1)"/>
<rect x="254" y="1157" width="35.60000000000002" height="11" rx="5" fill="#6a6a6a" filter="url(#b2)"/>
<rect x="304.7" y="1145" width="34.30000000000001" height="13" rx="5" fill="#303030" filter="url(#b1)"/>
<rect x="304.7" y="1155" width="34.30000000000001" height="13" rx="5" fill="#444" filter="url(#b2)"/>
<rect x="304.7" y="1136" width="34.30000000000001" height="14" rx="5" fill="#4c4c4c" filter="url(#b2)"/>
<rect x="352.6" y="1149.5" width="32.89999999999998" height="9.5" rx="4.75" fill="#454545" filter="url(#b1)"/>
<rect x="352.6" y="1157" width="32.89999999999998" height="11" rx="5" fill="#626262" filter="url(#b2)"/>
<rect x="352.6" y="1138" width="32.89999999999998" height="11" rx="5" fill="#777" filter="url(#b2)"/>
<rect x="400.5" y="1152" width="35.69999999999999" height="7.5" rx="3.75" fill="#505050" filter="url(#b1)"/>
<rect x="400.5" y="1158" width="35.69999999999999" height="10" rx="5.0" fill="#727272" filter="url(#b2)"/>
<rect x="450" y="1151" width="36.80000000000001" height="10" rx="5.0" fill="#343434" filter="url(#b1)"/>
<rect x="450" y="1159" width="36.80000000000001" height="9" rx="4.5" fill="#585858" filter="url(#b2)"/>
<rect x="499.2" y="1151.5" width="35.599999999999966" height="6.5" rx="3.25" fill="#444" filter="url(#b1)"/>
<rect x="499.2" y="1157" width="35.599999999999966" height="11" rx="5" fill="#727272" filter="url(#b2)"/>
<rect x="548.5" y="1152.5" width="35.5" height="4.5" rx="2.25" fill="#6a6a6a" filter="url(#b1)"/>
<rect x="548.5" y="1157" width="35.5" height="11" rx="5" fill="#858585" filter="url(#b2)"/>
</g>
<rect x="188.2" y="1131.5" width="408" height="32.3" fill="none" stroke="#000" stroke-width="1.8"/>
<clipPath id="cm2"><rect x="188.2" y="1168.8" width="408" height="36.2"/></clipPath>
<linearGradient id="gm2" x1="0" y1="0" x2="0" y2="1"><stop offset="0.3" stop-color="#a2a2a2"/><stop offset="1" stop-color="#9c9c9c"/></linearGradient>
<g clip-path="url(#cm2)">
<rect x="188.2" y="1168.8" width="408" height="36.2" fill="url(#gm2)"/>
<rect x="197.3" y="1176.0" width="40.89999999999998" height="13.0" rx="5" fill="#1a1a1a" filter="url(#b1)"/>
<rect x="245.3" y="1179.0" width="40.89999999999998" height="14.099999999999909" rx="5" fill="#1a1a1a" filter="url(#b1)"/>
<rect x="293.3" y="1184.5" width="46.39999999999998" height="14.0" rx="5" fill="#1a1a1a" filter="url(#b1)"/>
<rect x="346.6" y="1187.0" width="43.69999999999999" height="13.0" rx="5" fill="#1a1a1a" filter="url(#b1)"/>
<rect x="400.1" y="1185.0" width="46.39999999999998" height="15.5" rx="5" fill="#1a1a1a" filter="url(#b1)"/>
<rect x="453.0" y="1185.0" width="42.69999999999999" height="15.5" rx="5" fill="#1a1a1a" filter="url(#b1)"/>
<rect x="503.3" y="1181.5" width="38.99999999999994" height="17.0" rx="5" fill="#1a1a1a" filter="url(#b1)"/>
<rect x="550.8" y="1178.0" width="40.90000000000009" height="16.5" rx="5" fill="#1a1a1a" filter="url(#b1)"/>
<rect x="196" y="1203" width="26" height="5" rx="2.5" fill="#555" filter="url(#b1)"/>
</g>
<rect x="188.2" y="1168.8" width="408" height="36.2" fill="none" stroke="#000" stroke-width="1.8"/>
<text x="621.8" y="1155.8" font-size="21" font-weight="bold" text-anchor="start" fill="#000" textLength="48.5" lengthAdjust="spacingAndGlyphs">pATR</text>
<text x="671" y="1148.8" font-size="14.5" font-weight="normal" text-anchor="start" fill="#000" textLength="44.5" lengthAdjust="spacingAndGlyphs" stroke="#000" stroke-width="0.45">Ser428</text>
<text x="716.8" y="1155.8" font-size="21" font-weight="bold" text-anchor="start" fill="#000" textLength="85.4" lengthAdjust="spacingAndGlyphs">- 300kDa</text>
<text x="621.8" y="1188.4" font-size="21" font-weight="bold" text-anchor="start" fill="#000" textLength="176" lengthAdjust="spacingAndGlyphs">Total ATR- 250kDa</text>
<text x="21" y="1273.8" font-size="32.5" font-weight="normal" text-anchor="start" fill="#000" textLength="33" lengthAdjust="spacingAndGlyphs" stroke="#000" stroke-width="0.45">N.</text>
<line x1="225.5" y1="1314.5" x2="225.5" y2="1655.3" stroke="#808080" stroke-width="1.2" stroke-linecap="butt"/>
<line x1="217.5" y1="1655.3" x2="225.5" y2="1655.3" stroke="#808080" stroke-width="1.2" stroke-linecap="butt"/>
<text x="202.2" y="1661.8" font-size="19.5" font-weight="bold" text-anchor="end" fill="#000" textLength="28.4" lengthAdjust="spacingAndGlyphs">0.0</text>
<line x1="217.5" y1="1606.7" x2="225.5" y2="1606.7" stroke="#808080" stroke-width="1.2" stroke-linecap="butt"/>
<text x="202.2" y="1613.2" font-size="19.5" font-weight="bold" text-anchor="end" fill="#000" textLength="28.4" lengthAdjust="spacingAndGlyphs">0.2</text>
<line x1="217.5" y1="1558.1" x2="225.5" y2="1558.1" stroke="#808080" stroke-width="1.2" stroke-linecap="butt"/>
<text x="202.2" y="1564.6" font-size="19.5" font-weight="bold" text-anchor="end" fill="#000" textLength="28.4" lengthAdjust="spacingAndGlyphs">0.4</text>
<line x1="217.5" y1="1509.5" x2="225.5" y2="1509.5" stroke="#808080" stroke-width="1.2" stroke-linecap="butt"/>
<text x="202.2" y="1516.0" font-size="19.5" font-weight="bold" text-anchor="end" fill="#000" textLength="28.4" lengthAdjust="spacingAndGlyphs">0.6</text>
<line x1="217.5" y1="1460.8999999999999" x2="225.5" y2="1460.8999999999999" stroke="#808080" stroke-width="1.2" stroke-linecap="butt"/>
<text x="202.2" y="1467.3999999999999" font-size="19.5" font-weight="bold" text-anchor="end" fill="#000" textLength="28.4" lengthAdjust="spacingAndGlyphs">0.8</text>
<line x1="217.5" y1="1412.3" x2="225.5" y2="1412.3" stroke="#808080" stroke-width="1.2" stroke-linecap="butt"/>
<text x="202.2" y="1418.8" font-size="19.5" font-weight="bold" text-anchor="end" fill="#000" textLength="28.4" lengthAdjust="spacingAndGlyphs">1.0</text>
<line x1="217.5" y1="1363.6999999999998" x2="225.5" y2="1363.6999999999998" stroke="#808080" stroke-width="1.2" stroke-linecap="butt"/>
<text x="202.2" y="1370.1999999999998" font-size="19.5" font-weight="bold" text-anchor="end" fill="#000" textLength="28.4" lengthAdjust="spacingAndGlyphs">1.2</text>
<line x1="217.5" y1="1315.1" x2="225.5" y2="1315.1" stroke="#808080" stroke-width="1.2" stroke-linecap="butt"/>
<text x="202.2" y="1321.6" font-size="19.5" font-weight="bold" text-anchor="end" fill="#000" textLength="28.4" lengthAdjust="spacingAndGlyphs">1.4</text>
<text x="154.9" y="1482" font-size="22" font-weight="bold" text-anchor="middle" fill="#000" textLength="201.6" lengthAdjust="spacingAndGlyphs" transform="rotate(-90 154.9 1482)">pATR/Total ATR ratio</text>
<line x1="263.65" y1="1507.07" x2="263.65" y2="1504.154" stroke="#000" stroke-width="1.4" stroke-linecap="butt"/>
<line x1="259.65" y1="1504.154" x2="267.65" y2="1504.154" stroke="#000" stroke-width="1.4" stroke-linecap="butt"/>
<rect x="248" y="1507.07" width="31.3" height="148.23000000000002" fill="#bfbfbf" stroke="#000" stroke-width="1.6"/>
<line x1="294.95" y1="1553.7259999999999" x2="294.95" y2="1552.754" stroke="#000" stroke-width="1.4" stroke-linecap="butt"/>
<line x1="290.95" y1="1552.754" x2="298.95" y2="1552.754" stroke="#000" stroke-width="1.4" stroke-linecap="butt"/>
<rect x="279.3" y="1553.7259999999999" width="31.3" height="101.57400000000007" fill="#000" stroke="#000" stroke-width="1.6"/>
<line x1="372.65" y1="1392.86" x2="372.65" y2="1375.85" stroke="#000" stroke-width="1.4" stroke-linecap="butt"/>
<line x1="368.65" y1="1375.85" x2="376.65" y2="1375.85" stroke="#000" stroke-width="1.4" stroke-linecap="butt"/>
<rect x="357" y="1392.86" width="31.3" height="262.44000000000005" fill="#bfbfbf" stroke="#000" stroke-width="1.6"/>
<line x1="403.95" y1="1511.9299999999998" x2="403.95" y2="1502.2099999999998" stroke="#000" stroke-width="1.4" stroke-linecap="butt"/>
<line x1="399.95" y1="1502.2099999999998" x2="407.95" y2="1502.2099999999998" stroke="#000" stroke-width="1.4" stroke-linecap="butt"/>
<rect x="388.3" y="1511.9299999999998" width="31.3" height="143.37000000000012" fill="#000" stroke="#000" stroke-width="1.6"/>
<line x1="480.65" y1="1392.86" x2="480.65" y2="1388.4859999999999" stroke="#000" stroke-width="1.4" stroke-linecap="butt"/>
<line x1="476.65" y1="1388.4859999999999" x2="484.65" y2="1388.4859999999999" stroke="#000" stroke-width="1.4" stroke-linecap="butt"/>
<rect x="465" y="1392.86" width="31.3" height="262.44000000000005" fill="#bfbfbf" stroke="#000" stroke-width="1.6"/>
<line x1="511.95" y1="1544.0059999999999" x2="511.95" y2="1536.716" stroke="#000" stroke-width="1.4" stroke-linecap="butt"/>
<line x1="507.95" y1="1536.716" x2="515.95" y2="1536.716" stroke="#000" stroke-width="1.4" stroke-linecap="butt"/>
<rect x="496.3" y="1544.0059999999999" width="31.3" height="111.2940000000001" fill="#000" stroke="#000" stroke-width="1.6"/>
<line x1="588.65" y1="1460.8999999999999" x2="588.65" y2="1457.984" stroke="#000" stroke-width="1.4" stroke-linecap="butt"/>
<line x1="584.65" y1="1457.984" x2="592.65" y2="1457.984" stroke="#000" stroke-width="1.4" stroke-linecap="butt"/>
<rect x="573" y="1460.8999999999999" width="31.3" height="194.4000000000001" fill="#bfbfbf" stroke="#000" stroke-width="1.6"/>
<line x1="619.95" y1="1631.4859999999999" x2="619.95" y2="1629.0559999999998" stroke="#000" stroke-width="1.4" stroke-linecap="butt"/>
<line x1="615.95" y1="1629.0559999999998" x2="623.95" y2="1629.0559999999998" stroke="#000" stroke-width="1.4" stroke-linecap="butt"/>
<rect x="604.3" y="1631.4859999999999" width="31.3" height="23.814000000000078" fill="#000" stroke="#000" stroke-width="1.6"/>
<line x1="221" y1="1655.3" x2="664" y2="1655.3" stroke="#808080" stroke-width="3.4" stroke-linecap="butt"/>
<line x1="217" y1="1655.3" x2="222" y2="1655.3" stroke="#808080" stroke-width="1.2" stroke-linecap="butt"/>
<line x1="263" y1="1493.5" x2="307" y2="1493.5" stroke="#000" stroke-width="3.6" stroke-linecap="butt"/>
<text x="285.9" y="1489.9" font-size="20.5" font-weight="normal" text-anchor="middle" fill="#000" font-family='"Liberation Serif", serif' letter-spacing="1.4">**</text>
<line x1="371" y1="1364.5" x2="416" y2="1364.5" stroke="#000" stroke-width="3.6" stroke-linecap="butt"/>
<text x="394.4" y="1360.9" font-size="20.5" font-weight="normal" text-anchor="middle" fill="#000" font-family='"Liberation Serif", serif' letter-spacing="1.4">***</text>
<line x1="480.3" y1="1377.5" x2="524.5" y2="1377.5" stroke="#000" stroke-width="3.6" stroke-linecap="butt"/>
<text x="503.29999999999995" y="1373.9" font-size="20.5" font-weight="normal" text-anchor="middle" fill="#000" font-family='"Liberation Serif", serif' letter-spacing="1.4">***</text>
<line x1="590.7" y1="1446.3" x2="634.9" y2="1446.3" stroke="#000" stroke-width="3.6" stroke-linecap="butt"/>
<text x="613.6999999999999" y="1442.7" font-size="20.5" font-weight="normal" text-anchor="middle" fill="#000" font-family='"Liberation Serif", serif' letter-spacing="1.4">***</text>
<path d="M265 1400.5 L265 1268 L586.7 1268" fill="none" stroke="#bfbfbf" stroke-width="3.4"/>
<line x1="376" y1="1268" x2="376" y2="1285.5" stroke="#bfbfbf" stroke-width="3.4" stroke-linecap="butt"/>
<line x1="485" y1="1268" x2="485" y2="1285.5" stroke="#bfbfbf" stroke-width="3.4" stroke-linecap="butt"/>
<line x1="585" y1="1268" x2="585" y2="1285.5" stroke="#bfbfbf" stroke-width="3.4" stroke-linecap="butt"/>
<text x="377.3" y="1265.5" font-size="21.8" font-weight="normal" text-anchor="middle" fill="#000" font-family='"Liberation Serif", serif' letter-spacing="0.6" stroke="#000" stroke-width="0.35">***</text>
<text x="485.3" y="1265.5" font-size="21.8" font-weight="normal" text-anchor="middle" fill="#000" font-family='"Liberation Serif", serif' letter-spacing="0.6" stroke="#000" stroke-width="0.35">***</text>
<text x="585.3" y="1265.5" font-size="21.8" font-weight="normal" text-anchor="middle" fill="#000" font-family='"Liberation Serif", serif' letter-spacing="0.6" stroke="#000" stroke-width="0.35">**</text>
<path d="M292 1420.5 L292 1313.2 L622.5 1313.2" fill="none" stroke="#000" stroke-width="3.3"/>
<line x1="407" y1="1313" x2="407" y2="1330" stroke="#000" stroke-width="3.3" stroke-linecap="butt"/>
<line x1="514" y1="1313" x2="514" y2="1330" stroke="#000" stroke-width="3.3" stroke-linecap="butt"/>
<line x1="620.8" y1="1313" x2="620.8" y2="1330" stroke="#000" stroke-width="3.3" stroke-linecap="butt"/>
<text x="406.3" y="1310.8" font-size="21.8" font-weight="normal" text-anchor="middle" fill="#000" font-family='"Liberation Serif", serif' letter-spacing="0.6" stroke="#000" stroke-width="0.35">**</text>
<text x="514.3" y="1310.8" font-size="21.8" font-weight="normal" text-anchor="middle" fill="#000" font-family='"Liberation Serif", serif' letter-spacing="0.6" stroke="#000" stroke-width="0.35">***</text>
<text x="620.3" y="1310.8" font-size="21.8" font-weight="normal" text-anchor="middle" fill="#000" font-family='"Liberation Serif", serif' letter-spacing="0.6" stroke="#000" stroke-width="0.35">***</text>
<text x="278.7" y="1687.4" font-size="20.5" font-weight="bold" text-anchor="middle" fill="#000" textLength="19" lengthAdjust="spacingAndGlyphs">0-</text>
<text x="386" y="1689.9" font-size="20.5" font-weight="bold" text-anchor="middle" fill="#000" textLength="41" lengthAdjust="spacingAndGlyphs">0+ h</text>
<text x="493.5" y="1688.2" font-size="20.5" font-weight="bold" text-anchor="middle" fill="#000" textLength="41.5" lengthAdjust="spacingAndGlyphs">24 h</text>
<text x="600" y="1688.2" font-size="20.5" font-weight="bold" text-anchor="middle" fill="#000" textLength="41.5" lengthAdjust="spacingAndGlyphs">48 h</text>
<text x="243.46" y="1721" font-size="21.5" font-weight="bold" text-anchor="start" fill="#000" textLength="87.13" lengthAdjust="spacingAndGlyphs" stroke="#000" stroke-width="0.5">Recovery</text>
<text x="339.7" y="1721" font-size="21.5" font-weight="bold" text-anchor="start" fill="#000" textLength="43.22" lengthAdjust="spacingAndGlyphs" stroke="#000" stroke-width="0.27">time</text>
<text x="389.8" y="1721" font-size="21.5" font-weight="bold" text-anchor="start" fill="#000" textLength="42.45" lengthAdjust="spacingAndGlyphs" stroke="#000" stroke-width="0.47">after</text>
<text x="439.1" y="1721" font-size="21.5" font-weight="bold" text-anchor="start" fill="#000" textLength="65.1" lengthAdjust="spacingAndGlyphs" stroke="#000" stroke-width="0.2">30min</text>
<text x="513.34" y="1721" font-size="21.5" font-weight="bold" text-anchor="start" fill="#000" textLength="17.21" lengthAdjust="spacingAndGlyphs" stroke="#000" stroke-width="0.5">at</text>
<text x="535.8" y="1721" font-size="21.5" font-weight="bold" text-anchor="start" fill="#000" textLength="27.1" lengthAdjust="spacingAndGlyphs" stroke="#000" stroke-width="0.48">0.6</text>
<text x="570.5" y="1721" font-size="21.5" font-weight="bold" text-anchor="start" fill="#000" textLength="36.25" lengthAdjust="spacingAndGlyphs" stroke="#000" stroke-width="0.26">mM</text>
<text x="617.7" y="1721" font-size="21.5" font-weight="bold" text-anchor="start" fill="#000" textLength="50.56" lengthAdjust="spacingAndGlyphs" stroke="#000" stroke-width="0.2">MMS</text>
<rect x="540.3" y="1751.5" width="15.2" height="15.2" fill="#bfbfbf" stroke="#000" stroke-width="1.6"/>
<text x="568" y="1765" font-size="21" font-weight="bold" text-anchor="start" fill="#000" textLength="222" lengthAdjust="spacingAndGlyphs">C1 No Doxy (HMGA2+)</text>
<rect x="539.8" y="1783" width="16" height="16" fill="#000" stroke="#000" stroke-width="0.5"/>
<text x="568" y="1799.6" font-size="21" font-weight="bold" text-anchor="start" fill="#000" textLength="185.7" lengthAdjust="spacingAndGlyphs">C1 + Doxy (HMGA2</text>
<text x="754.5" y="1792.1" font-size="14" font-weight="normal" text-anchor="start" fill="#000" textLength="21" lengthAdjust="spacingAndGlyphs" stroke="#000" stroke-width="0.45">low</text>
<text x="777.2" y="1799.6" font-size="21" font-weight="bold" text-anchor="start" fill="#000">)</text>
</svg>
</body></html>
